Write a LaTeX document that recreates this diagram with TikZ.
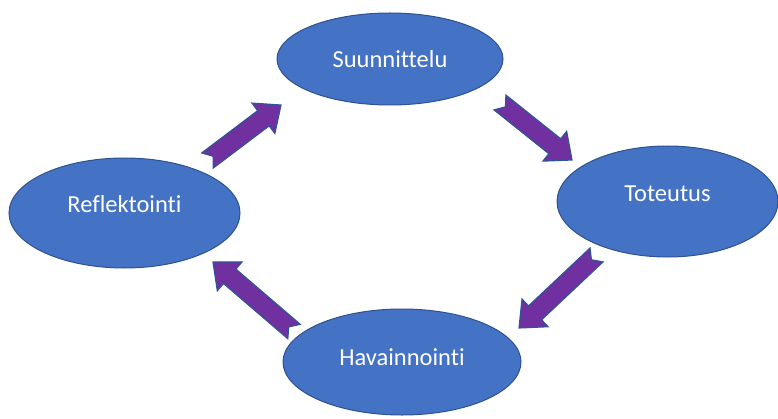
\documentclass[tikz,border=0pt]{standalone}
\usepackage{fontspec}
\setmainfont{Carlito}[Ligatures={NoCommon}]
\usetikzlibrary{shapes.geometric,calc}
\definecolor{ellfill}{HTML}{4472C4}
\definecolor{elldraw}{HTML}{2F528F}
\definecolor{arrfill}{HTML}{7030A0}
\definecolor{arrdraw}{HTML}{2F5597}
\tikzset{
  phase/.style={ellipse, fill=ellfill, draw=elldraw, line width=1pt, text=white,
    font=\fontsize{24.5}{29}\selectfont, inner sep=0pt},
  blockarrow/.style={fill=arrfill, draw=arrdraw, line width=1.2pt, line join=miter},
}
\newcommand\notcharrow[2]{%
  \path[blockarrow] let \p1=($(#2)-(#1)$), \n1={atan2(\y1,\x1)}, \n2={veclen(\x1,\y1)} in
    {[shift={(#1)}, rotate=\n1]
    (0pt,9.5pt) -- ({\n2-22pt},9.5pt) -- ({\n2-22pt},19pt) -- ({\n2+0pt},0pt)
    -- ({\n2-22pt},-19pt) -- ({\n2-22pt},-9.5pt) -- (0pt,-9.5pt) -- (7pt,0pt) -- cycle};
}
\begin{document}
\begin{tikzpicture}[x=1pt,y=1pt]
\useasboundingbox (0,0) rectangle (778,418);
\node[phase, minimum width=226pt, minimum height=92pt] (plan) at (390,359) {\raisebox{1pt}{Suunnittelu}};
\node[phase, minimum width=221pt, minimum height=111pt] (act) at (667.5,216.5) {\raisebox{16pt}{Toteutus}};
\node[phase, minimum width=238pt, minimum height=106pt] (obs) at (402,56) {\raisebox{9pt}{Havainnointi}};
\node[phase, minimum width=231pt, minimum height=110pt] (refl) at (124.5,205) {\raisebox{19pt}{Reflektointi}};
\coordinate (a1t) at (207.5,257.5); \coordinate (a1h) at (281,313);
\coordinate (a2t) at (500,315.5);   \coordinate (a2h) at (572,258);
\coordinate (a3t) at (596.5,163);   \coordinate (a3h) at (519,90);
\coordinate (a4t) at (294,86.5);    \coordinate (a4h) at (213,156);
\notcharrow{a1t}{a1h}
\notcharrow{a2t}{a2h}
\notcharrow{a3t}{a3h}
\notcharrow{a4t}{a4h}
\end{tikzpicture}
\end{document}
